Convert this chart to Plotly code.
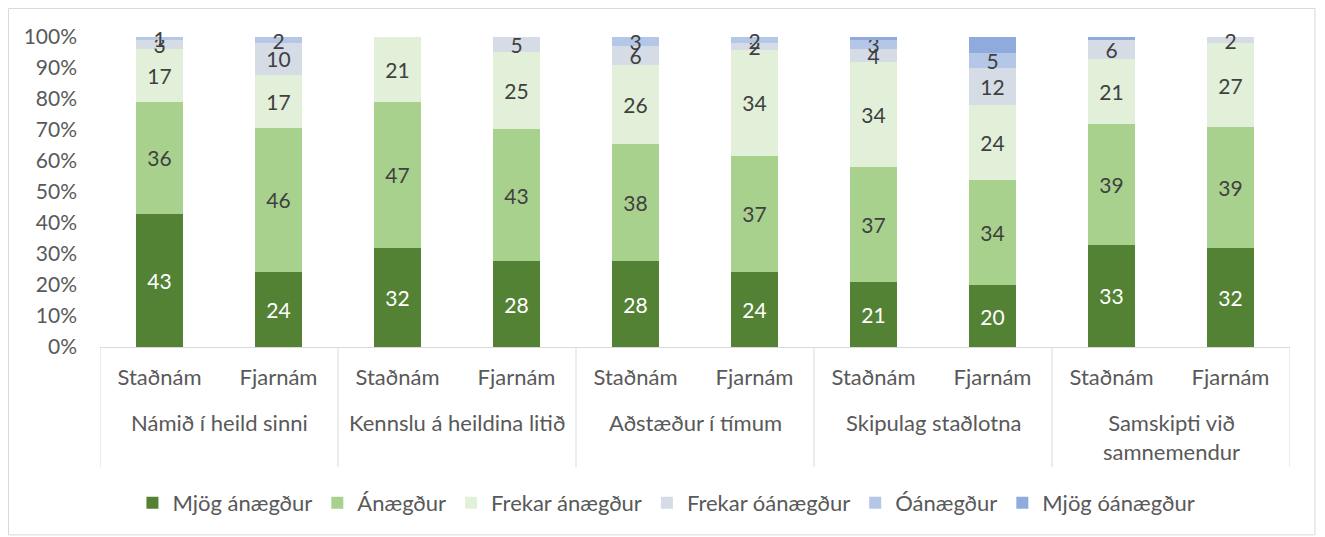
import plotly.graph_objects as go

group_labels = ["Námið í heild sinni", "Kennslu á heildina litið",
                "Aðstæður í tímum", "Skipulag staðlotna",
                "Samskipti við<br>samnemendur"]
modes = ["Staðnám", "Fjarnám"] * 5

series_names = ["Mjög ánægður", "Ánægður", "Frekar ánægður",
                "Frekar óánægður", "Óánægður", "Mjög óánægður"]
mjog_anaegdur = [43, 24, 32, 28, 28, 24, 21, 20, 33, 32]
anaegdur = [36, 46, 47, 43, 38, 37, 37, 34, 39, 39]
frekar_anaegdur = [17, 17, 21, 25, 26, 34, 34, 24, 21, 27]
frekar_oanaegdur = [3, 10, 0, 5, 6, 2, 4, 12, 6, 2]
oanaegdur = [1, 2, 0, 0, 3, 2, 3, 5, 0, 0]
mjog_oanaegdur = [0, 0, 0, 0, 0, 0, 1, 5, 1, 0]
values = [mjog_anaegdur, anaegdur, frekar_anaegdur,
          frekar_oanaegdur, oanaegdur, mjog_oanaegdur]
show_labels = [True, True, True, True, True, False]

colors = ["#548235", "#a9d18e", "#e2f0d9", "#d6dce5", "#b4c7e7", "#8faadc"]
text_colors = ["#ffffff", "#404040", "#404040", "#404040", "#404040", "#404040"]

FONT = "Lato, Open Sans, sans-serif"
FS_BAR = 21
FS_Y = 21
FS_X = 22
FS_LEG = 22
x_pos = list(range(len(modes)))

fig = go.Figure()
for name, vals, col, tcol, show in zip(series_names, values, colors, text_colors, show_labels):
    fig.add_trace(go.Bar(
        x=x_pos, y=vals, name=name,
        marker=dict(color=col, line=dict(width=0)),
        text=[str(v) if (v and show) else "" for v in vals],
        textposition="inside", insidetextanchor="middle", textangle=0,
        textfont=dict(color=tcol, size=FS_BAR, family=FONT),
        cliponaxis=False,
    ))

# plot area height in pixels, used to place group labels / dividers below the axis
PLOT_H = 310
def py(px_below_axis):
    return -px_below_axis / PLOT_H

shapes = []
for b in range(0, len(modes) + 1, 2):
    shapes.append(dict(type="line", xref="x", yref="paper",
                       x0=b - 0.5, x1=b - 0.5, y0=0, y1=py(120),
                       line=dict(color="#d9d9d9", width=1)))
shapes.append(dict(type="rect", xref="paper", yref="paper",
                   x0=-0.0769, x1=1.021, y0=-0.606, y1=1.092,
                   line=dict(color="#d9d9d9", width=1),
                   fillcolor="rgba(0,0,0,0)", layer="above"))

annotations = []
for i, g in enumerate(group_labels):
    annotations.append(dict(x=2 * i + 0.5, xref="x", y=py(60), yref="paper",
                            yanchor="top", xanchor="center", text=g, showarrow=False,
                            font=dict(size=FS_X, color="#595959", family=FONT)))

fig.update_layout(
    barmode="stack", barnorm="percent", bargap=0.6,
    width=1317, height=529,
    margin=dict(l=92, r=35, t=29, b=190, autoexpand=False),
    plot_bgcolor="white", paper_bgcolor="white",
    font=dict(family=FONT, size=FS_X, color="#595959"),
    uniformtext=dict(minsize=FS_BAR, mode="show"),
    showlegend=True,
    legend=dict(orientation="h", x=0.476, xanchor="center", y=py(156), yanchor="middle",
                font=dict(size=FS_LEG, color="#595959"), traceorder="normal"),
    shapes=shapes, annotations=annotations,
)
fig.update_xaxes(range=[-0.5, len(modes) - 0.5], tickvals=x_pos, ticktext=modes,
                 showline=True, linecolor="#d9d9d9", linewidth=1,
                 showgrid=False, zeroline=False, ticks="", automargin=False,
                 tickfont=dict(size=FS_X, color="#595959"), ticklabelstandoff=11)
fig.update_yaxes(range=[0, 100], tickvals=list(range(0, 101, 10)),
                 ticktext=[f"{v}%" for v in range(0, 101, 10)],
                 showgrid=False, zeroline=False, showline=False, automargin=False,
                 tickfont=dict(size=FS_Y, color="#595959"), ticklabelstandoff=22)

fig.write_html("out.html")
